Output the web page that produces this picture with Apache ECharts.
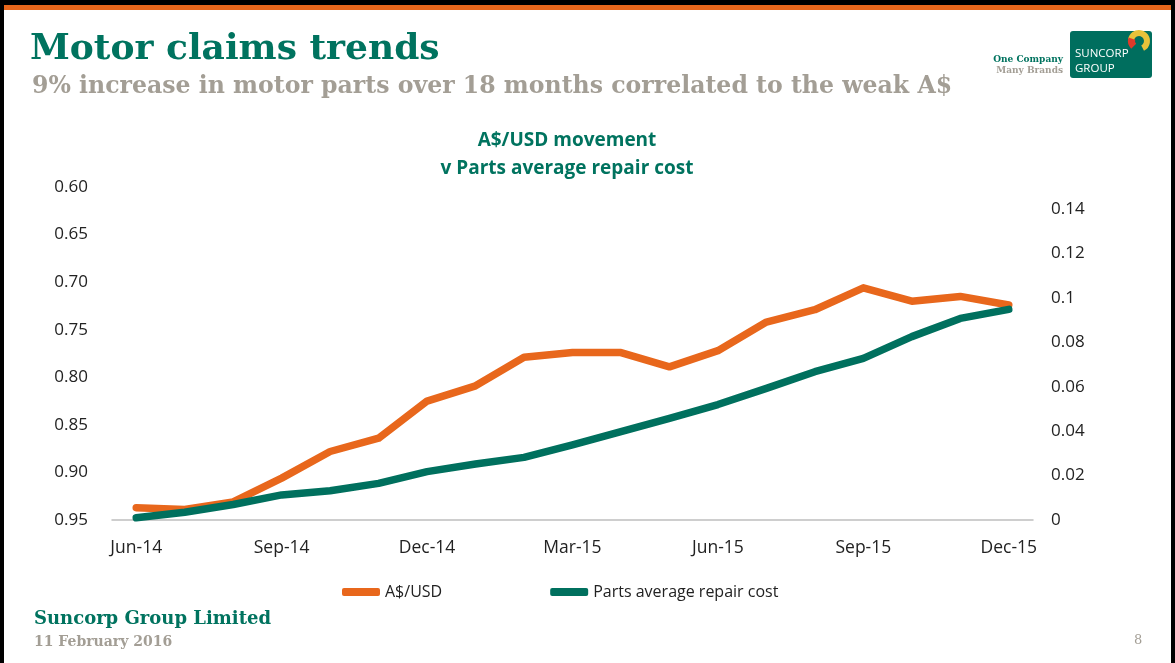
<!DOCTYPE html>
<html>
<head>
<meta charset="utf-8">
<script src="https://cdn.jsdelivr.net/npm/echarts@6/dist/echarts.min.js"></script>
<style>
html,body{margin:0;padding:0;background:#fff;}
#c{width:1175px;height:663px;}
</style>
</head>
<body>
<div id="c"></div>
<script>
// ---- data ----
const months = ['Jun-14','Jul-14','Aug-14','Sep-14','Oct-14','Nov-14','Dec-14','Jan-15','Feb-15','Mar-15','Apr-15','May-15','Jun-15','Jul-15','Aug-15','Sep-15','Oct-15','Nov-15','Dec-15'];
const audUsd = [0.937,0.939,0.931,0.906,0.878,0.864,0.825,0.809,0.779,0.774,0.774,0.789,0.772,0.742,0.729,0.706,0.720,0.715,0.724];
const partsCost = [0.001,0.0035,0.007,0.0113,0.0132,0.0165,0.0218,0.0252,0.0282,0.0338,0.0398,0.0458,0.052,0.0593,0.0668,0.0728,0.0826,0.0908,0.0949];
const seriesNames = ['A$/USD','Parts average repair cost'];

const ORANGE = '#E8671C';
const TEAL = '#00705E';
const TITLE_TEAL = '#00735F';
const GREY = '#A39E95';
const chartFont = '"Open Sans", "Noto Sans", sans-serif';
const serif = '"DejaVu Serif", serif';

const chart = echarts.init(document.getElementById('c'), null, {renderer:'canvas'});
chart.setOption({
  backgroundColor:'#ffffff',
  animation:false,
  grid:{left:112,right:142,top:187,bottom:143,containLabel:false},
  legend:{
    left:337, top:579,
    itemWidth:38, itemHeight:8, itemGap:108,
    icon:'roundRect',
    textStyle:{fontFamily:chartFont,fontSize:16,color:'#222'},
    data:seriesNames
  },
  xAxis:{
    type:'category', data:months, boundaryGap:true,
    axisLine:{lineStyle:{color:'#BFBFBF',width:1.5}},
    axisTick:{interval:2,length:6,lineStyle:{color:'#BFBFBF',width:1.5}},
    axisLabel:{interval:2,margin:19,fontFamily:chartFont,fontSize:17.5,color:'#222'}
  },
  yAxis:[
    {type:'value',position:'left',inverse:true,min:0.60,max:0.95,interval:0.05,
     axisLine:{show:false},axisTick:{show:false},splitLine:{show:false},
     axisLabel:{margin:24,fontFamily:chartFont,fontSize:17,color:'#222',
       formatter:v=>v.toFixed(2)}},
    {type:'value',position:'right',min:0,max:0.15,interval:0.02,
     axisLine:{show:false},axisTick:{show:false},splitLine:{show:false},
     axisLabel:{margin:18,fontFamily:chartFont,fontSize:17,color:'#222',showMaxLabel:false,
       formatter:v=>v===0?'0':String(+v.toFixed(2))}}
  ],
  series:[
    {name:seriesNames[0],type:'line',yAxisIndex:0,data:audUsd,symbol:'none',
     itemStyle:{color:ORANGE},
     lineStyle:{color:ORANGE,width:7.5,cap:'round',join:'round'}},
    {name:seriesNames[1],type:'line',yAxisIndex:1,data:partsCost,symbol:'none',
     itemStyle:{color:TEAL},
     lineStyle:{color:TEAL,width:7.5,cap:'round',join:'round'}}
  ],
  graphic:[
    // slide frame
    {type:'rect',shape:{x:0,y:0,width:1175,height:5},style:{fill:'#000'},silent:true},
    {type:'rect',shape:{x:0,y:5,width:1175,height:5},style:{fill:'#E8671C'},silent:true},
    {type:'rect',shape:{x:0,y:0,width:4,height:663},style:{fill:'#000'},silent:true},
    {type:'rect',shape:{x:1171,y:0,width:4,height:663},style:{fill:'#000'},silent:true},
    // titles
    {type:'text',left:30,top:32,style:{text:'Motor claims trends',font:'bold 36px '+serif,fill:TITLE_TEAL}},
    {type:'text',left:32,top:75,style:{text:'9% increase in motor parts over 18 months correlated to the weak A$',font:'bold 23.6px '+serif,fill:GREY}},
    // chart title
    {type:'text',x:567,y:127,style:{text:'A$/USD movement\nv Parts average repair cost',font:'bold 19px '+chartFont,fill:TITLE_TEAL,align:'center',lineHeight:28}},
    // logo text
    {type:'text',x:1063,y:55,style:{text:'One Company',font:'bold 9px '+serif,fill:TITLE_TEAL,align:'right'}},
    {type:'text',x:1063,y:66,style:{text:'Many Brands',font:'bold 9px '+serif,fill:GREY,align:'right'}},
    // logo box
    {type:'rect',shape:{x:1070,y:31,width:82,height:47,r:3},style:{fill:'#006E5E'}},
    {type:'sector',shape:{cx:1139,cy:41,r:11,r0:5,startAngle:-Math.PI*0.95,endAngle:Math.PI*0.35},style:{fill:'#E8C23A'}},
    {type:'sector',shape:{cx:1139,cy:41,r:11,r0:4,startAngle:-Math.PI*1.25,endAngle:-Math.PI*0.9},style:{fill:'#E03A2A'}},
    {type:'text',x:1075,y:48,style:{text:'SUNCORP',font:'11.5px '+chartFont,fill:'#fff'}},
    {type:'text',x:1075,y:63,style:{text:'GROUP',font:'11.5px '+chartFont,fill:'#fff'}},
    // footer
    {type:'text',left:34,top:610,style:{text:'Suncorp Group Limited',font:'bold 18px '+serif,fill:TITLE_TEAL}},
    {type:'text',left:34,top:635,style:{text:'11 February 2016',font:'bold 14px '+serif,fill:GREY}},
    {type:'text',x:1134,y:634,style:{text:'8',font:'13px '+serif,fill:GREY}}
  ]
});
</script>
</body>
</html>
